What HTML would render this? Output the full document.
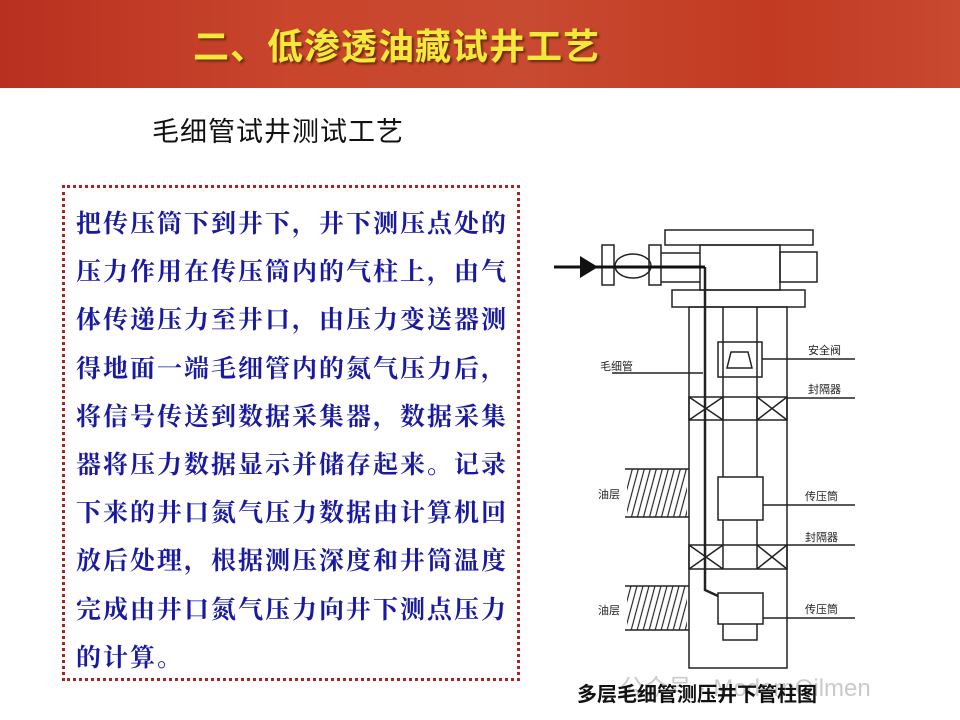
<!DOCTYPE html>
<html><head><meta charset="utf-8"><style>
body{margin:0;width:960px;height:720px;background:#fff;position:relative;overflow:hidden;font-family:"Liberation Sans","Noto Sans CJK SC",sans-serif}
.hdr{position:absolute;left:0;top:0;width:960px;height:88px;background:linear-gradient(90deg,#b83020 0%,#c9452c 30%,#c84a30 55%,#c23a22 80%,#c84830 100%)}
.hdr h1{position:absolute;left:193px;top:18px;margin:0;font:bold 36px "Noto Sans CJK SC",sans-serif;color:#f4e83a;text-shadow:2px 2px 2px #6b2a10;letter-spacing:1px}
.sub{position:absolute;left:152px;top:110px;font-size:27px;color:#111;letter-spacing:1px}
.box{position:absolute;left:62px;top:185px;width:458px;height:496px;border:3px dotted #b02020;box-sizing:border-box}
.txt{position:absolute;left:76px;top:198px;width:460px;font:bold 25px/48.2px "Noto Serif CJK SC",serif;color:#1a1aa0;white-space:nowrap;letter-spacing:2px}
.cap{position:absolute;left:577px;top:678px;font:bold 20px "Noto Sans CJK SC",sans-serif;color:#111;white-space:nowrap}
.wm{position:absolute;left:620px;top:668px;font-size:24px;color:rgba(150,150,150,.5)}
</style></head><body>
<div class="hdr"><h1>二、低渗透油藏试井工艺</h1></div>
<div class="sub">毛细管试井测试工艺</div>
<div class="box"></div>
<div class="txt">把传压筒下到井下，井下测压点处的<br>压力作用在传压筒内的气柱上，由气<br>体传递压力至井口，由压力变送器测<br>得地面一端毛细管内的氮气压力后，<br>将信号传送到数据采集器，数据采集<br>器将压力数据显示并储存起来。记录<br>下来的井口氮气压力数据由计算机回<br>放后处理，根据测压深度和井筒温度<br>完成由井口氮气压力向井下测点压力<br>的计算。</div>
<svg width="960" height="720" style="position:absolute;left:0;top:0" font-family="Noto Sans CJK SC,sans-serif" font-size="11">
<defs><pattern id="h" width="6" height="10" patternUnits="userSpaceOnUse" patternTransform="skewX(-15)"><line x1="2" y1="0" x2="2" y2="10" stroke="#222" stroke-width="1.2"/></pattern></defs>
<g fill="none" stroke="#222" stroke-width="1.5">
<rect x="665" y="230" width="148" height="15"/>
<rect x="700" y="245" width="80" height="45"/>
<rect x="780" y="252" width="37" height="30"/>
<rect x="602" y="245" width="12" height="40"/>
<ellipse cx="633" cy="266" rx="18" ry="12"/>
<rect x="649" y="245" width="12" height="40"/>
<line x1="661" y1="253" x2="700" y2="253"/><line x1="661" y1="282" x2="700" y2="282"/>
<rect x="672" y="290" width="133" height="17"/>
<rect x="689" y="307" width="98" height="361"/>
<line x1="723" y1="307" x2="723" y2="477"/><line x1="757" y1="307" x2="757" y2="477"/>
<rect x="718" y="342" width="44" height="35"/>
<path d="M727 368 L731 352 L748 352 L752 368 Z"/>
<rect x="689" y="397" width="98" height="23"/>
<path d="M689 397 L723 420 M723 397 L689 420 M757 397 L787 420 M787 397 L757 420"/>
<line x1="723" y1="397" x2="723" y2="420"/><line x1="757" y1="397" x2="757" y2="420"/>
<rect x="718" y="477" width="45" height="43"/>
<line x1="723" y1="520" x2="723" y2="545"/><line x1="757" y1="520" x2="757" y2="545"/>
<rect x="689" y="545" width="98" height="24"/>
<path d="M689 545 L723 569 M723 545 L689 569 M757 545 L787 569 M787 545 L757 569"/>
<line x1="723" y1="545" x2="723" y2="569"/><line x1="757" y1="545" x2="757" y2="569"/>
<rect x="718" y="593" width="45" height="31"/>
<path d="M723 624 L723 640 L757 640 L757 624"/>
<path d="M705 267 L705 590 L718 596" stroke-width="2.5"/>
<line x1="762" y1="359" x2="855" y2="359"/>
<line x1="612" y1="373" x2="703" y2="373"/>
<line x1="787" y1="398" x2="855" y2="398"/>
<line x1="763" y1="505" x2="855" y2="505"/>
<line x1="787" y1="545" x2="855" y2="545"/>
<line x1="763" y1="618" x2="855" y2="618"/>
<line x1="625" y1="469" x2="689" y2="469"/><line x1="625" y1="517" x2="689" y2="517"/>
<line x1="625" y1="586" x2="689" y2="586"/><line x1="625" y1="630" x2="689" y2="630"/>
</g>
<rect x="627" y="469" width="60" height="48" fill="url(#h)"/>
<rect x="627" y="586" width="60" height="44" fill="url(#h)"/>
<line x1="554" y1="267" x2="705" y2="267" stroke="#111" stroke-width="3"/>
<polygon points="580,256 598,267 580,278" fill="#111"/>
<g fill="#222">
<text x="808" y="354">安全阀</text><text x="600" y="370">毛细管</text>
<text x="808" y="393">封隔器</text><text x="805" y="500">传压筒</text>
<text x="805" y="541">封隔器</text><text x="805" y="613">传压筒</text>
<text x="598" y="498">油层</text><text x="598" y="614">油层</text>
</g>
</svg>
<div class="wm">公众号 · ModernOilmen</div>
<div class="cap">多层毛细管测压井下管柱图</div>
</body></html>
